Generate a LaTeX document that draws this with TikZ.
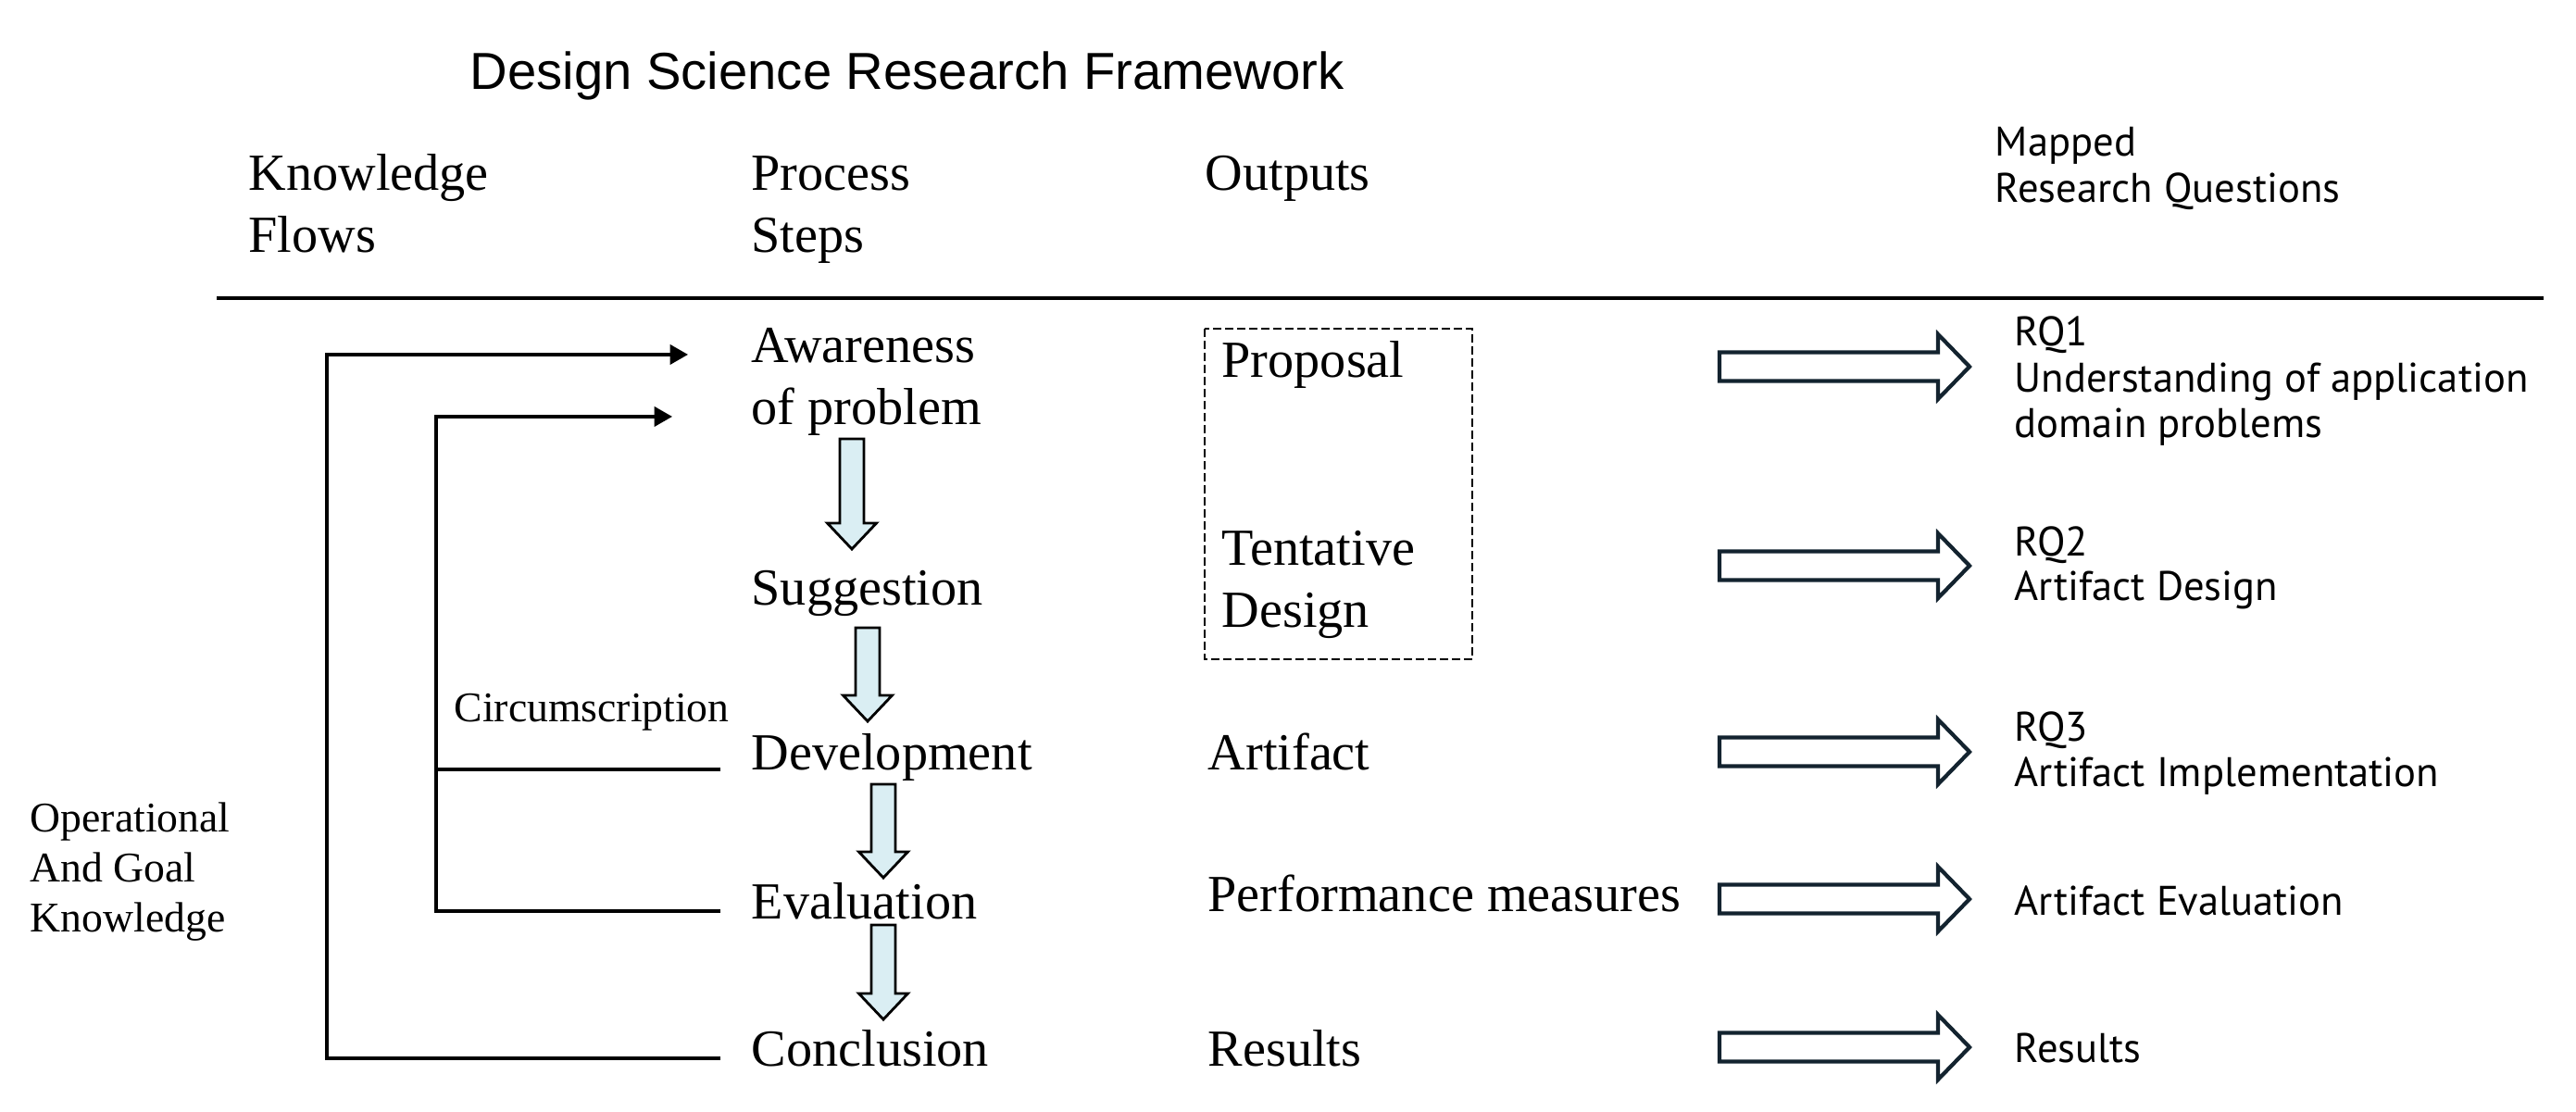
\documentclass[tikz,border=0pt]{standalone}
\usepackage{fontspec}
\setmainfont{Liberation Serif}
\newfontfamily\titlefont{Liberation Sans}
\newfontfamily\rqfont{PT Sans}
\usetikzlibrary{arrows.meta}

\definecolor{stepblue}{HTML}{DAEEF3}
\definecolor{rqnavy}{HTML}{13232F}

% block arrow between two process steps: centre x, top y, tip y
\newcommand{\stepArrow}[3]{%
  \draw[steparrow] (#1-0.13,#2) -- (#1+0.13,#2) -- (#1+0.13,#3+0.28)
    -- (#1+0.265,#3+0.28) -- (#1,#3) -- (#1-0.265,#3+0.28) -- (#1-0.13,#3+0.28) -- cycle;}
% hollow arrow towards the research questions: centre y
\newcommand{\rqArrow}[1]{%
  \draw[rqarrow] (18.57,#1+0.155) -- (20.93,#1+0.155) -- (20.93,#1+0.35) -- (21.27,#1)
    -- (20.93,#1-0.35) -- (20.93,#1-0.155) -- (18.57,#1-0.155) -- cycle;}

\begin{document}
\begin{tikzpicture}[
    stepnode/.style={inner sep=0pt, anchor=base west, font=\fontsize{16}{19}\selectfont},
    notenode/.style={inner sep=0pt, anchor=base west, font=\fontsize{13}{15}\selectfont},
    rqnode/.style={inner sep=0pt, anchor=base west, font=\rqfont\fontsize{12.7}{15}\selectfont},
    flow/.style={line width=1pt},
    flowtip/.style={-{Triangle[length=5.5pt,width=6pt]}},
    steparrow/.style={draw=black, fill=stepblue, line width=0.8pt, line join=miter},
    rqarrow/.style={draw=rqnavy, fill=white, line width=1.2pt, line join=miter}
]
    \useasboundingbox (0,0) rectangle (27.82,-12);

    % title and column heads
    \node[inner sep=0pt, anchor=base west, font=\titlefont\fontsize{16}{19}\selectfont] (title) at (5.07,-0.96) {Design Science Research Framework};
    \node[stepnode] (hflowA) at (2.68,-2.05) {Knowledge};
    \node[stepnode] (hflowB) at (2.68,-2.72) {Flows};
    \node[stepnode] (hstepA) at (8.11,-2.05) {Process};
    \node[stepnode] (hstepB) at (8.11,-2.72) {Steps};
    \node[stepnode] (hout) at (13.01,-2.05) {Outputs};
    \node[rqnode] (hrqA) at (21.54,-1.68) {Mapped};
    \node[rqnode] (hrqB) at (21.54,-2.18) {Research Questions};
    \draw[line width=1.2pt] (2.34,-3.22) -- (27.47,-3.22);

    % process steps
    \node[stepnode] (aware) at (8.11,-3.91) {Awareness};
    \node[stepnode] (problem) at (8.11,-4.58) {of problem};
    \node[stepnode] (suggest) at (8.11,-6.53) {Suggestion};
    \node[stepnode] (devel) at (8.11,-8.31) {Development};
    \node[stepnode] (eval) at (8.11,-9.92) {Evaluation};
    \node[stepnode] (concl) at (8.11,-11.51) {Conclusion};

    \stepArrow{9.20}{-4.74}{-5.93}
    \stepArrow{9.37}{-6.78}{-7.79}
    \stepArrow{9.54}{-8.47}{-9.48}
    \stepArrow{9.54}{-9.99}{-11.01}

    % knowledge flows
    \node[notenode] (circ) at (4.90,-7.79) {Circumscription};
    \node[notenode] (opA) at (0.32,-8.98) {Operational};
    \node[notenode] (opB) at (0.32,-9.52) {And Goal};
    \node[notenode] (opC) at (0.32,-10.06) {Knowledge};

    \coordinate (outerx) at (3.53,0);
    \coordinate (innerx) at (4.71,0);
    \draw[flow, flowtip, shorten <=3.3mm, shorten >=6.8mm] (concl.mid west) -| (outerx |- aware.mid west) -- (aware.mid west);
    \draw[flow, flowtip, shorten <=3.3mm, shorten >=8.5mm] (eval.mid west) -| (innerx |- problem.mid west) -- (problem.mid west);
    \draw[flow, shorten <=3.3mm] (devel.base west) -- (devel.base west -| innerx);

    % outputs
    \node[stepnode] (proposal) at (13.19,-4.07) {Proposal};
    \node[stepnode] (tentA) at (13.19,-6.10) {Tentative};
    \node[stepnode] (tentB) at (13.19,-6.77) {Design};
    \node[stepnode] (artifact) at (13.04,-8.31) {Artifact};
    \node[stepnode] (perf) at (13.04,-9.84) {Performance measures};
    \node[stepnode] (results) at (13.04,-11.51) {Results};
    \draw[line width=0.8pt, dash pattern=on 2.5pt off 1.2pt] (13.01,-3.55) rectangle (15.90,-7.12);

    % research questions
    \rqArrow{-3.96}
    \rqArrow{-6.11}
    \rqArrow{-8.12}
    \rqArrow{-9.71}
    \rqArrow{-11.31}

    \node[rqnode] (rq1) at (21.75,-3.73) {RQ1};
    \node[rqnode] (rq1a) at (21.75,-4.23) {Understanding of application};
    \node[rqnode] (rq1b) at (21.75,-4.72) {domain problems};
    \node[rqnode] (rq2) at (21.75,-6.00) {RQ2};
    \node[rqnode] (rq2a) at (21.75,-6.48) {Artifact Design};
    \node[rqnode] (rq3) at (21.75,-8.00) {RQ3};
    \node[rqnode] (rq3a) at (21.75,-8.49) {Artifact Implementation};
    \node[rqnode] (rq4) at (21.75,-9.88) {Artifact Evaluation};
    \node[rqnode] (rq5) at (21.75,-11.47) {Results};
\end{tikzpicture}
\end{document}
